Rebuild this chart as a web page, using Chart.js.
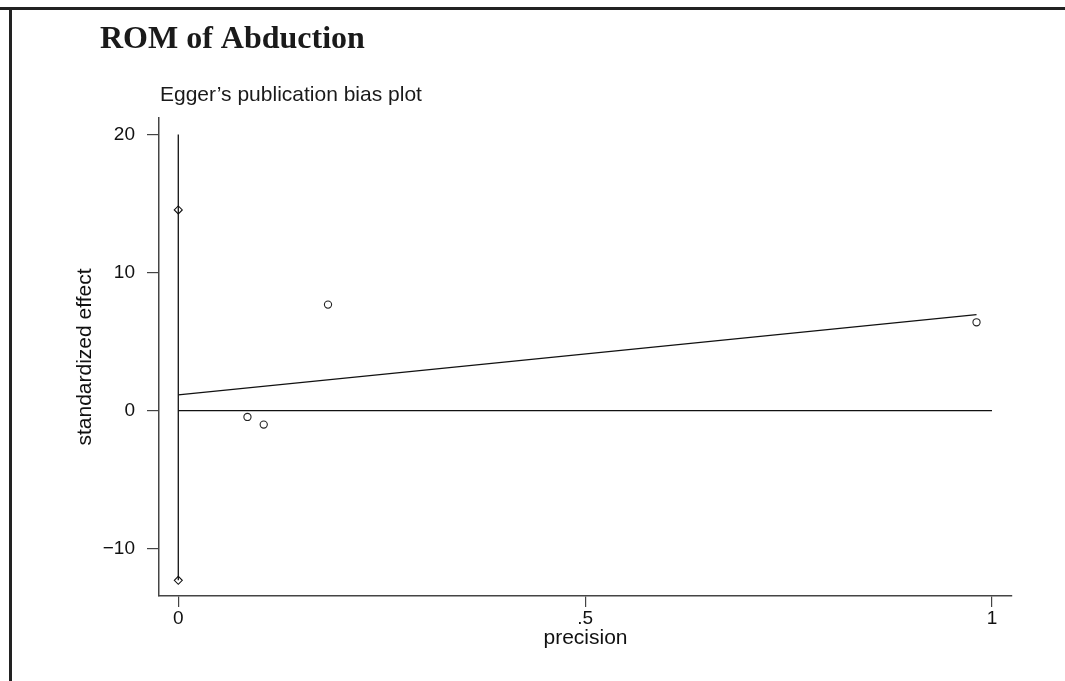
<!DOCTYPE html>
<html>
<head>
<meta charset="utf-8">
<script src="https://cdn.jsdelivr.net/npm/chart.js@4"></script>
<style>
  html, body { margin: 0; padding: 0; background: #ffffff; }
  #wrap { width: 1065px; height: 681px; position: relative; }
</style>
</head>
<body>
<div id="wrap"><canvas id="c" width="1065" height="681"></canvas></div>
<script>
// ---- data ----
const mainTitle = 'ROM of Abduction';
const subTitle = 'Egger\u2019s publication bias plot';
const xAxisTitle = 'precision';
const yAxisTitle = 'standardized effect';

const precision = [0.085, 0.105, 0.184, 0.981];
const stdEffect = [-0.46, -1.01, 7.68, 6.40];

const ciPrecision = [0, 0];
const ciBounds = [14.54, -12.29];

const ciLineX = [0, 0];
const ciLineY = [20, -12.29];

const regLineX = [0, 0.981];
const regLineY = [1.14, 6.96];

const zeroLineX = [0, 1];
const zeroLineY = [0, 0];

const xTicks = [0, 0.5, 1];
const xTickLabels = ['0', '.5', '1'];
const yTicks = [-10, 0, 10, 20];
const yTickLabels = ['\u221210', '0', '10', '20'];

const toPts = (xs, ys) => xs.map((x, i) => ({ x: x, y: ys[i] }));

const framePlugin = {
  id: 'frameAndTitles',
  beforeDraw(chart) {
    const ctx = chart.ctx;
    ctx.save();
    ctx.fillStyle = '#ffffff';
    ctx.fillRect(0, 0, chart.width, chart.height);
    ctx.restore();
  },
  afterDraw(chart) {
    const ctx = chart.ctx;
    ctx.save();
    ctx.strokeStyle = '#222222';
    ctx.lineWidth = 3;
    ctx.beginPath();
    ctx.moveTo(0, 8.5);
    ctx.lineTo(chart.width, 8.5);
    ctx.moveTo(10.5, 8.5);
    ctx.lineTo(10.5, chart.height);
    ctx.stroke();
    ctx.fillStyle = '#1a1a1a';
    ctx.textBaseline = 'alphabetic';
    ctx.textAlign = 'left';
    ctx.font = 'bold 32px "Liberation Serif", "Times New Roman", serif';
    ctx.fillText(mainTitle, 100, 48);
    ctx.font = '21px "Liberation Sans", Arial, sans-serif';
    ctx.fillText(subTitle, 160, 101);
    ctx.restore();
  }
};

const lineColor = '#111111';
const axisColor = '#444444';
const fontSans = '"Liberation Sans", Arial, sans-serif';

new Chart(document.getElementById('c'), {
  type: 'scatter',
  data: {
    datasets: [
      { label: 'ci', data: toPts(ciLineX, ciLineY), showLine: true, borderColor: lineColor, borderWidth: 1.3, pointRadius: 0, fill: false },
      { label: 'zero', data: toPts(zeroLineX, zeroLineY), showLine: true, borderColor: lineColor, borderWidth: 1.3, pointRadius: 0, fill: false },
      { label: 'regression', data: toPts(regLineX, regLineY), showLine: true, borderColor: lineColor, borderWidth: 1.3, pointRadius: 0, fill: false },
      { label: 'ci bounds', data: toPts(ciPrecision, ciBounds), showLine: false, pointStyle: 'rectRot', pointRadius: 4, borderWidth: 1.1, borderColor: lineColor, backgroundColor: '#ffffff' },
      { label: 'studies', data: toPts(precision, stdEffect), showLine: false, pointStyle: 'circle', pointRadius: 3.6, borderWidth: 1.1, borderColor: '#222222', backgroundColor: 'rgba(255,255,255,0)' }
    ]
  },
  options: {
    responsive: false,
    animation: false,
    devicePixelRatio: 1,
    layout: { padding: { left: 0, top: 118, right: 53, bottom: 0 } },
    plugins: {
      legend: { display: false },
      tooltip: { enabled: false },
      title: { display: false }
    },
    scales: {
      x: {
        type: 'linear',
        min: -0.0237,
        max: 1.0246,
        afterBuildTicks(axis) { axis.ticks = xTicks.map(v => ({ value: v })); },
        afterFit(axis) { axis.height = 85; },
        ticks: {
          autoSkip: false,
          maxRotation: 0,
          padding: 0,
          color: '#111111',
          font: { family: fontSans, size: 19 },
          callback(v) { const i = xTicks.indexOf(v); return i >= 0 ? xTickLabels[i] : ''; }
        },
        grid: { drawOnChartArea: false, drawTicks: true, tickLength: 11, color: axisColor, lineWidth: 1.2 },
        border: { display: true, color: axisColor, width: 1.5 },
        title: { display: true, text: xAxisTitle, color: '#111111', font: { family: fontSans, size: 21 }, padding: { top: 0, bottom: 30 } }
      },
      y: {
        type: 'linear',
        min: -13.43,
        max: 21.2,
        afterBuildTicks(axis) { axis.ticks = yTicks.map(v => ({ value: v })); },
        afterFit(axis) { axis.width = 159; },
        ticks: {
          autoSkip: false,
          padding: 12,
          color: '#111111',
          font: { family: fontSans, size: 19 },
          callback(v) { const i = yTicks.indexOf(v); return i >= 0 ? yTickLabels[i] : ''; }
        },
        grid: { drawOnChartArea: false, drawTicks: true, tickLength: 12, color: axisColor, lineWidth: 1.2 },
        border: { display: true, color: axisColor, width: 1.5 },
        title: { display: true, text: yAxisTitle, color: '#111111', font: { family: fontSans, size: 21 }, padding: { top: 73, bottom: 0 } }
      }
    }
  },
  plugins: [framePlugin]
});
</script>
</body>
</html>
